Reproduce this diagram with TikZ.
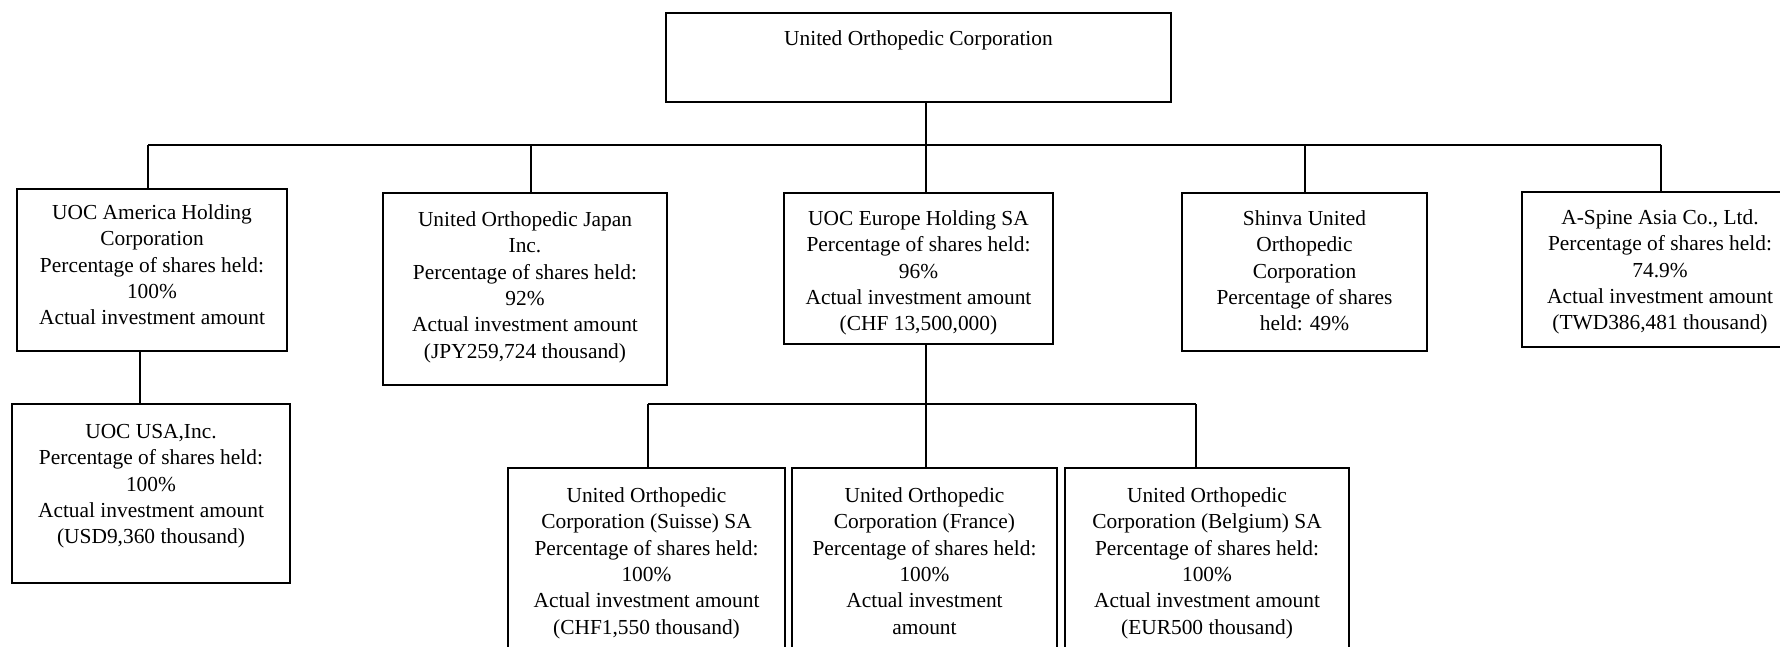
\documentclass[tikz,border=0pt]{standalone}
\usepackage{fontspec}
\setmainfont{Liberation Serif}
\newcommand\orgtext[4]{\begin{minipage}[c][#2][t]{#1}\centering\rule{0pt}{#3}#4\end{minipage}}
\begin{document}
\begin{tikzpicture}[x=1pt,y=-1pt,
  box/.style={draw=black, line width=2pt, inner sep=0pt, outer sep=0pt, font=\fontsize{21.4}{26.3}\selectfont},
  conn/.style={draw=black, line width=2pt}]
\useasboundingbox (0,0) rectangle (1780,646);
\clip (0,0) rectangle (1780,646);

% boxes
\node[box] (root) at (918.5,57.5) {\orgtext{505pt}{89pt}{32.5pt}{United Orthopedic Corporation}};
\node[box] (am) at (152,270) {\orgtext{270pt}{162pt}{30.5pt}{UOC America Holding\\Corporation\\Percentage of shares held:\\100\%\\Actual investment amount}};
\node[box] (us) at (151,493.5) {\orgtext{278pt}{179pt}{34.5pt}{UOC USA,Inc.\\Percentage of shares held:\\100\%\\Actual investment amount\\(USD9,360 thousand)}};
\node[box] (jp) at (525,289) {\orgtext{284pt}{192pt}{33.5pt}{United Orthopedic Japan\\Inc.\\Percentage of shares held:\\92\%\\Actual investment amount\\(JPY259,724 thousand)}};
\node[box] (eu) at (918.5,268.5) {\orgtext{269pt}{151pt}{32.5pt}{UOC Europe Holding SA\\Percentage of shares held:\\96\%\\Actual investment amount\\(CHF 13,500,000)}};
\node[box] (sh) at (1304.5,272) {\orgtext{245pt}{158pt}{32.5pt}{Shinva United\\Orthopedic\\Corporation\\Percentage of shares\\held: 49\%}};
\node[box] (as) at (1660,269.5) {\orgtext{276pt}{155pt}{32.5pt}{A-Spine Asia Co., Ltd.\\Percentage of shares held:\\74.9\%\\Actual investment amount\\(TWD386,481 thousand)}};
\node[box] (su) at (646.5,564) {\orgtext{277pt}{192pt}{34.5pt}{United Orthopedic\\Corporation (Suisse) SA\\Percentage of shares held:\\100\%\\Actual investment amount\\(CHF1,550 thousand)}};
\node[box] (fr) at (924.5,564) {\orgtext{265pt}{192pt}{34.5pt}{United Orthopedic\\Corporation (France)\\Percentage of shares held:\\100\%\\Actual investment\\amount}};
\node[box] (be) at (1207,564) {\orgtext{284pt}{192pt}{34.5pt}{United Orthopedic\\Corporation (Belgium) SA\\Percentage of shares held:\\100\%\\Actual investment amount\\(EUR500 thousand)}};

% junctions
\coordinate (jAm) at (148,144.5);
\coordinate (jJp) at (531,144.5);
\coordinate (jEu) at (926,144.5);
\coordinate (jSh) at (1305,144.5);
\coordinate (jAs) at (1661,144.5);
\coordinate (lSu) at (648,404);
\coordinate (lFr) at (926,404);
\coordinate (lBe) at (1196,404);
\coordinate (cUs) at (140,380);

% connectors
\path[conn] (jAm) -- (jAs);
\path[conn] (jEu |- root.south) -- (jEu |- eu.north);
\path[conn] (jAm) -- (jAm |- am.north);
\path[conn] (jJp) -- (jJp |- jp.north);
\path[conn] (jSh) -- (jSh |- sh.north);
\path[conn] (jAs) -- (jAs |- as.north);
\path[conn] (cUs |- am.south) -- (cUs |- us.north);
\path[conn] (lFr |- eu.south) -- (lFr |- fr.north);
\path[conn] (lSu) -- (lBe);
\path[conn] (lSu) -- (lSu |- su.north);
\path[conn] (lBe) -- (lBe |- be.north);
\end{tikzpicture}
\end{document}
